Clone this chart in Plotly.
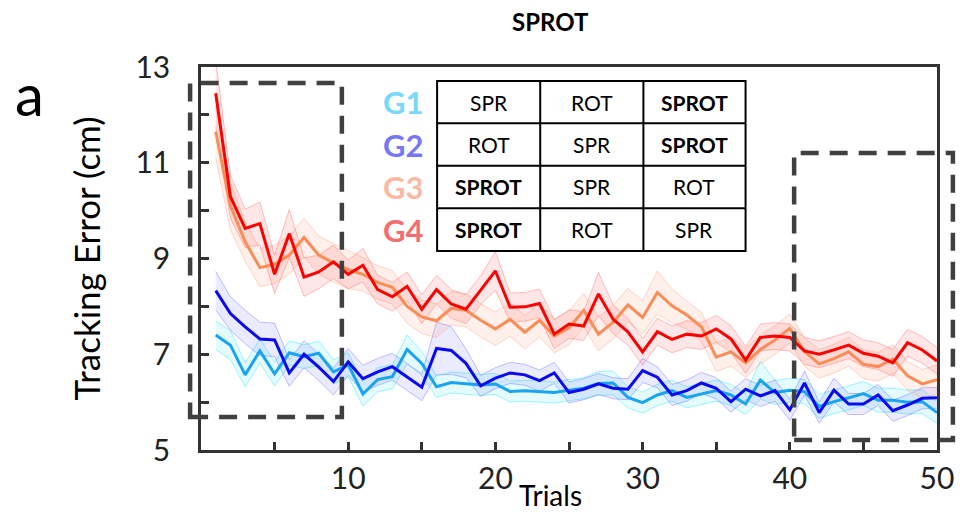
import plotly.graph_objects as go

trials = list(range(1, 51))

g1 = [7.40, 7.19, 6.57, 7.07, 6.59, 7.03, 6.95, 7.02, 6.63, 6.78,
      6.17, 6.47, 6.53, 7.10, 6.81, 6.32, 6.41, 6.39, 6.36, 6.38,
      6.22, 6.24, 6.22, 6.20, 6.25, 6.29, 6.39, 6.40, 6.10, 5.99,
      6.15, 6.24, 6.10, 6.17, 6.24, 6.15, 5.96, 6.46, 6.20, 6.25,
      6.22, 5.91, 6.01, 6.09, 6.18, 6.04, 6.04, 6.00, 6.01, 5.78]
g2 = [8.33, 7.85, 7.57, 7.32, 7.30, 6.61, 7.00, 6.73, 6.43, 6.84,
      6.49, 6.63, 6.74, 6.53, 6.31, 7.12, 7.08, 6.81, 6.34, 6.50,
      6.61, 6.57, 6.45, 6.61, 6.20, 6.27, 6.38, 6.29, 6.27, 6.66,
      6.52, 6.15, 6.24, 6.40, 6.29, 6.01, 6.27, 6.13, 6.24, 5.84,
      6.40, 5.78, 6.25, 5.96, 5.96, 6.15, 5.82, 5.94, 6.08, 6.09]
g3 = [11.65, 10.10, 9.35, 8.81, 8.88, 9.07, 9.44, 9.07, 8.91, 8.77,
      8.67, 8.50, 8.40, 8.00, 7.78, 7.70, 7.96, 7.92, 7.71, 7.53,
      7.73, 7.46, 7.71, 7.38, 7.55, 7.92, 7.42, 7.67, 8.03, 7.77,
      8.29, 8.01, 7.82, 7.57, 6.94, 7.05, 6.82, 7.10, 7.30, 7.54,
      7.05, 6.80, 6.91, 7.05, 6.79, 6.74, 6.90, 6.55, 6.38, 6.47]
g4 = [12.45, 10.29, 9.63, 9.73, 8.67, 9.52, 8.61, 8.72, 8.93, 8.67,
      8.86, 8.35, 8.20, 8.42, 7.94, 8.35, 8.05, 7.94, 8.34, 8.74,
      7.98, 7.99, 8.06, 7.42, 7.63, 7.59, 8.26, 7.73, 7.47, 7.05,
      7.47, 7.31, 7.42, 7.38, 7.53, 7.32, 6.88, 7.35, 7.38, 7.35,
      7.07, 7.00, 7.09, 7.19, 7.02, 6.96, 6.82, 7.24, 7.09, 6.86]

e1 = [0.30, 0.30, 0.25, 0.25, 0.25, 0.25, 0.25, 0.25, 0.25, 0.25,
      0.25, 0.25, 0.25, 0.30, 0.25, 0.22, 0.22, 0.22, 0.22, 0.22,
      0.22, 0.22, 0.22, 0.22, 0.22, 0.22, 0.25, 0.25, 0.22, 0.22,
      0.22, 0.22, 0.22, 0.22, 0.22, 0.22, 0.22, 0.40, 0.25, 0.25,
      0.25, 0.25, 0.25, 0.25, 0.25, 0.25, 0.25, 0.25, 0.25, 0.22]
e2 = [0.40, 0.35, 0.35, 0.35, 0.35, 0.28, 0.28, 0.28, 0.28, 0.28,
      0.28, 0.28, 0.28, 0.28, 0.28, 0.55, 0.50, 0.30, 0.22, 0.22,
      0.22, 0.22, 0.22, 0.22, 0.22, 0.22, 0.22, 0.22, 0.22, 0.25,
      0.22, 0.22, 0.22, 0.22, 0.22, 0.22, 0.22, 0.22, 0.22, 0.22,
      0.25, 0.22, 0.25, 0.22, 0.22, 0.22, 0.22, 0.22, 0.22, 0.22]
e3 = [0.55, 0.50, 0.40, 0.40, 0.40, 0.40, 0.40, 0.40, 0.40, 0.40,
      0.35, 0.35, 0.35, 0.35, 0.35, 0.35, 0.35, 0.35, 0.35, 0.35,
      0.35, 0.35, 0.35, 0.35, 0.35, 0.35, 0.35, 0.35, 0.35, 0.35,
      0.45, 0.35, 0.30, 0.30, 0.30, 0.30, 0.30, 0.30, 0.30, 0.30,
      0.30, 0.30, 0.30, 0.30, 0.30, 0.30, 0.30, 0.30, 0.30, 0.30]
e4 = [0.70, 0.45, 0.40, 0.45, 0.40, 0.50, 0.40, 0.35, 0.35, 0.30,
      0.35, 0.30, 0.30, 0.30, 0.30, 0.30, 0.30, 0.30, 0.30, 0.40,
      0.30, 0.30, 0.30, 0.30, 0.30, 0.30, 0.45, 0.30, 0.28, 0.28,
      0.28, 0.28, 0.28, 0.28, 0.28, 0.28, 0.28, 0.28, 0.28, 0.28,
      0.28, 0.28, 0.28, 0.28, 0.28, 0.28, 0.28, 0.28, 0.28, 0.28]

group_names = ["G1", "G2", "G3", "G4"]
label_colors = ["#78d7fa", "#7878f0", "#fab9a0", "#f56e6e"]
line_colors = ["#19a4f0", "#0a0af0", "#fa8c55", "#ff0000"]
band_fill = ["rgba(0,225,255,0.10)", "rgba(70,70,255,0.11)",
             "rgba(255,150,110,0.14)", "rgba(255,60,60,0.12)"]
band_edge = ["rgba(0,225,255,0.38)", "rgba(90,90,255,0.38)",
             "rgba(255,150,110,0.38)", "rgba(255,90,90,0.38)"]

table_rows = [["SPR", "ROT", "SPROT"],
              ["ROT", "SPR", "SPROT"],
              ["SPROT", "SPR", "ROT"],
              ["SPROT", "ROT", "SPR"]]

y_tick_vals = [5, 6, 7, 8, 9, 10, 11, 12, 13]
y_tick_text = ["5", "", "7", "", "9", "", "11", "", "13"]
x_tick_vals = [5, 10, 15, 20, 25, 30, 35, 40, 45, 50]
x_tick_text = ["", "10", "", "20", "", "30", "", "40", "", "50"]

FONT = "Lato"
fig = go.Figure()

series = [g1, g2, g3, g4]
errs = [e1, e2, e3, e4]
for i, (vals, err) in enumerate(zip(series, errs)):
    lo = [v - e for v, e in zip(vals, err)]
    hi = [v + e for v, e in zip(vals, err)]
    fig.add_trace(go.Scatter(x=trials, y=lo, mode="lines",
                             line=dict(color=band_edge[i], width=1),
                             showlegend=False, hoverinfo="skip"))
    fig.add_trace(go.Scatter(x=trials, y=hi, mode="lines", fill="tonexty",
                             fillcolor=band_fill[i],
                             line=dict(color=band_edge[i], width=1),
                             showlegend=False, hoverinfo="skip"))
for i, vals in enumerate(series):
    fig.add_trace(go.Scatter(x=trials, y=vals, mode="lines", name=group_names[i],
                             line=dict(color=line_colors[i], width=3),
                             showlegend=False))

# dashed highlight boxes
dash_line = dict(color="#404040", width=4.5, dash="18px,11px")
fig.add_shape(type="rect", xref="paper", yref="paper",
              x0=-0.0148, x1=0.1914, y0=0.0862, y1=0.9582, line=dash_line)
fig.add_shape(type="rect", xref="paper", yref="paper",
              x0=0.8059, x1=1.0216, y0=0.0261, y1=0.7755, line=dash_line)

# table
col_edges = [0.3208, 0.4609, 0.6011, 0.7399]
row_edges = [0.9634, 0.853, 0.7423, 0.6311, 0.5196]
fig.add_shape(type="rect", xref="paper", yref="paper",
              x0=col_edges[0], x1=col_edges[-1], y0=row_edges[-1], y1=row_edges[0],
              line=dict(color="black", width=2), fillcolor="white", layer="above")
for cx in col_edges[1:-1]:
    fig.add_shape(type="line", xref="paper", yref="paper", x0=cx, x1=cx,
                  y0=row_edges[-1], y1=row_edges[0], line=dict(color="black", width=2))
for ry in row_edges[1:-1]:
    fig.add_shape(type="line", xref="paper", yref="paper", x0=col_edges[0], x1=col_edges[-1],
                  y0=ry, y1=ry, line=dict(color="black", width=2))


def note(x, y, text, size, color="black", angle=0):
    fig.add_annotation(x=x, y=y, xref="paper", yref="paper", showarrow=False,
                       xanchor="center", yanchor="middle", text=text, textangle=angle,
                       font=dict(family=FONT, size=size, color=color))


for r, row in enumerate(table_rows):
    yc = (row_edges[r] + row_edges[r + 1]) / 2
    note(0.2749, yc, "<b>%s</b>" % group_names[r], 31, label_colors[r])
    for c, txt in enumerate(row):
        xc = (col_edges[c] + col_edges[c + 1]) / 2
        t = "<b>%s</b>" % txt if txt == "SPROT" else txt
        note(xc, yc, t, 21)

note(0.4744, 1.1175, "<b>SPROT</b>", 24)
note(-0.2332, 0.93, "a", 58)
note(-0.1563, 0.5, "Tracking Error (cm)", 35, angle=-90)
note(0.4744, -0.1175, "Trials", 28)

axis_common = dict(ticks="inside", ticklen=8, tickwidth=2.5, tickcolor="#333",
                   showline=True, linecolor="#333", linewidth=2.5, mirror=True,
                   showgrid=False, zeroline=False,
                   tickfont=dict(family=FONT, size=30, color="#222"))
fig.update_xaxes(range=[0, 50], tickvals=x_tick_vals, ticktext=x_tick_text, **axis_common)
fig.update_yaxes(range=[5, 13], tickvals=y_tick_vals, ticktext=y_tick_text,
                 ticklabelstandoff=22, **axis_common)

fig.update_layout(width=966, height=520, plot_bgcolor="white", paper_bgcolor="white",
                  margin=dict(l=201, r=23, t=67, b=70), showlegend=False)

# remove the default page margin so the figure fills the window exactly
fig.write_html("out.html", config={"displayModeBar": False},
               post_script="document.body.style.margin='0px';document.body.style.overflow='hidden';")
